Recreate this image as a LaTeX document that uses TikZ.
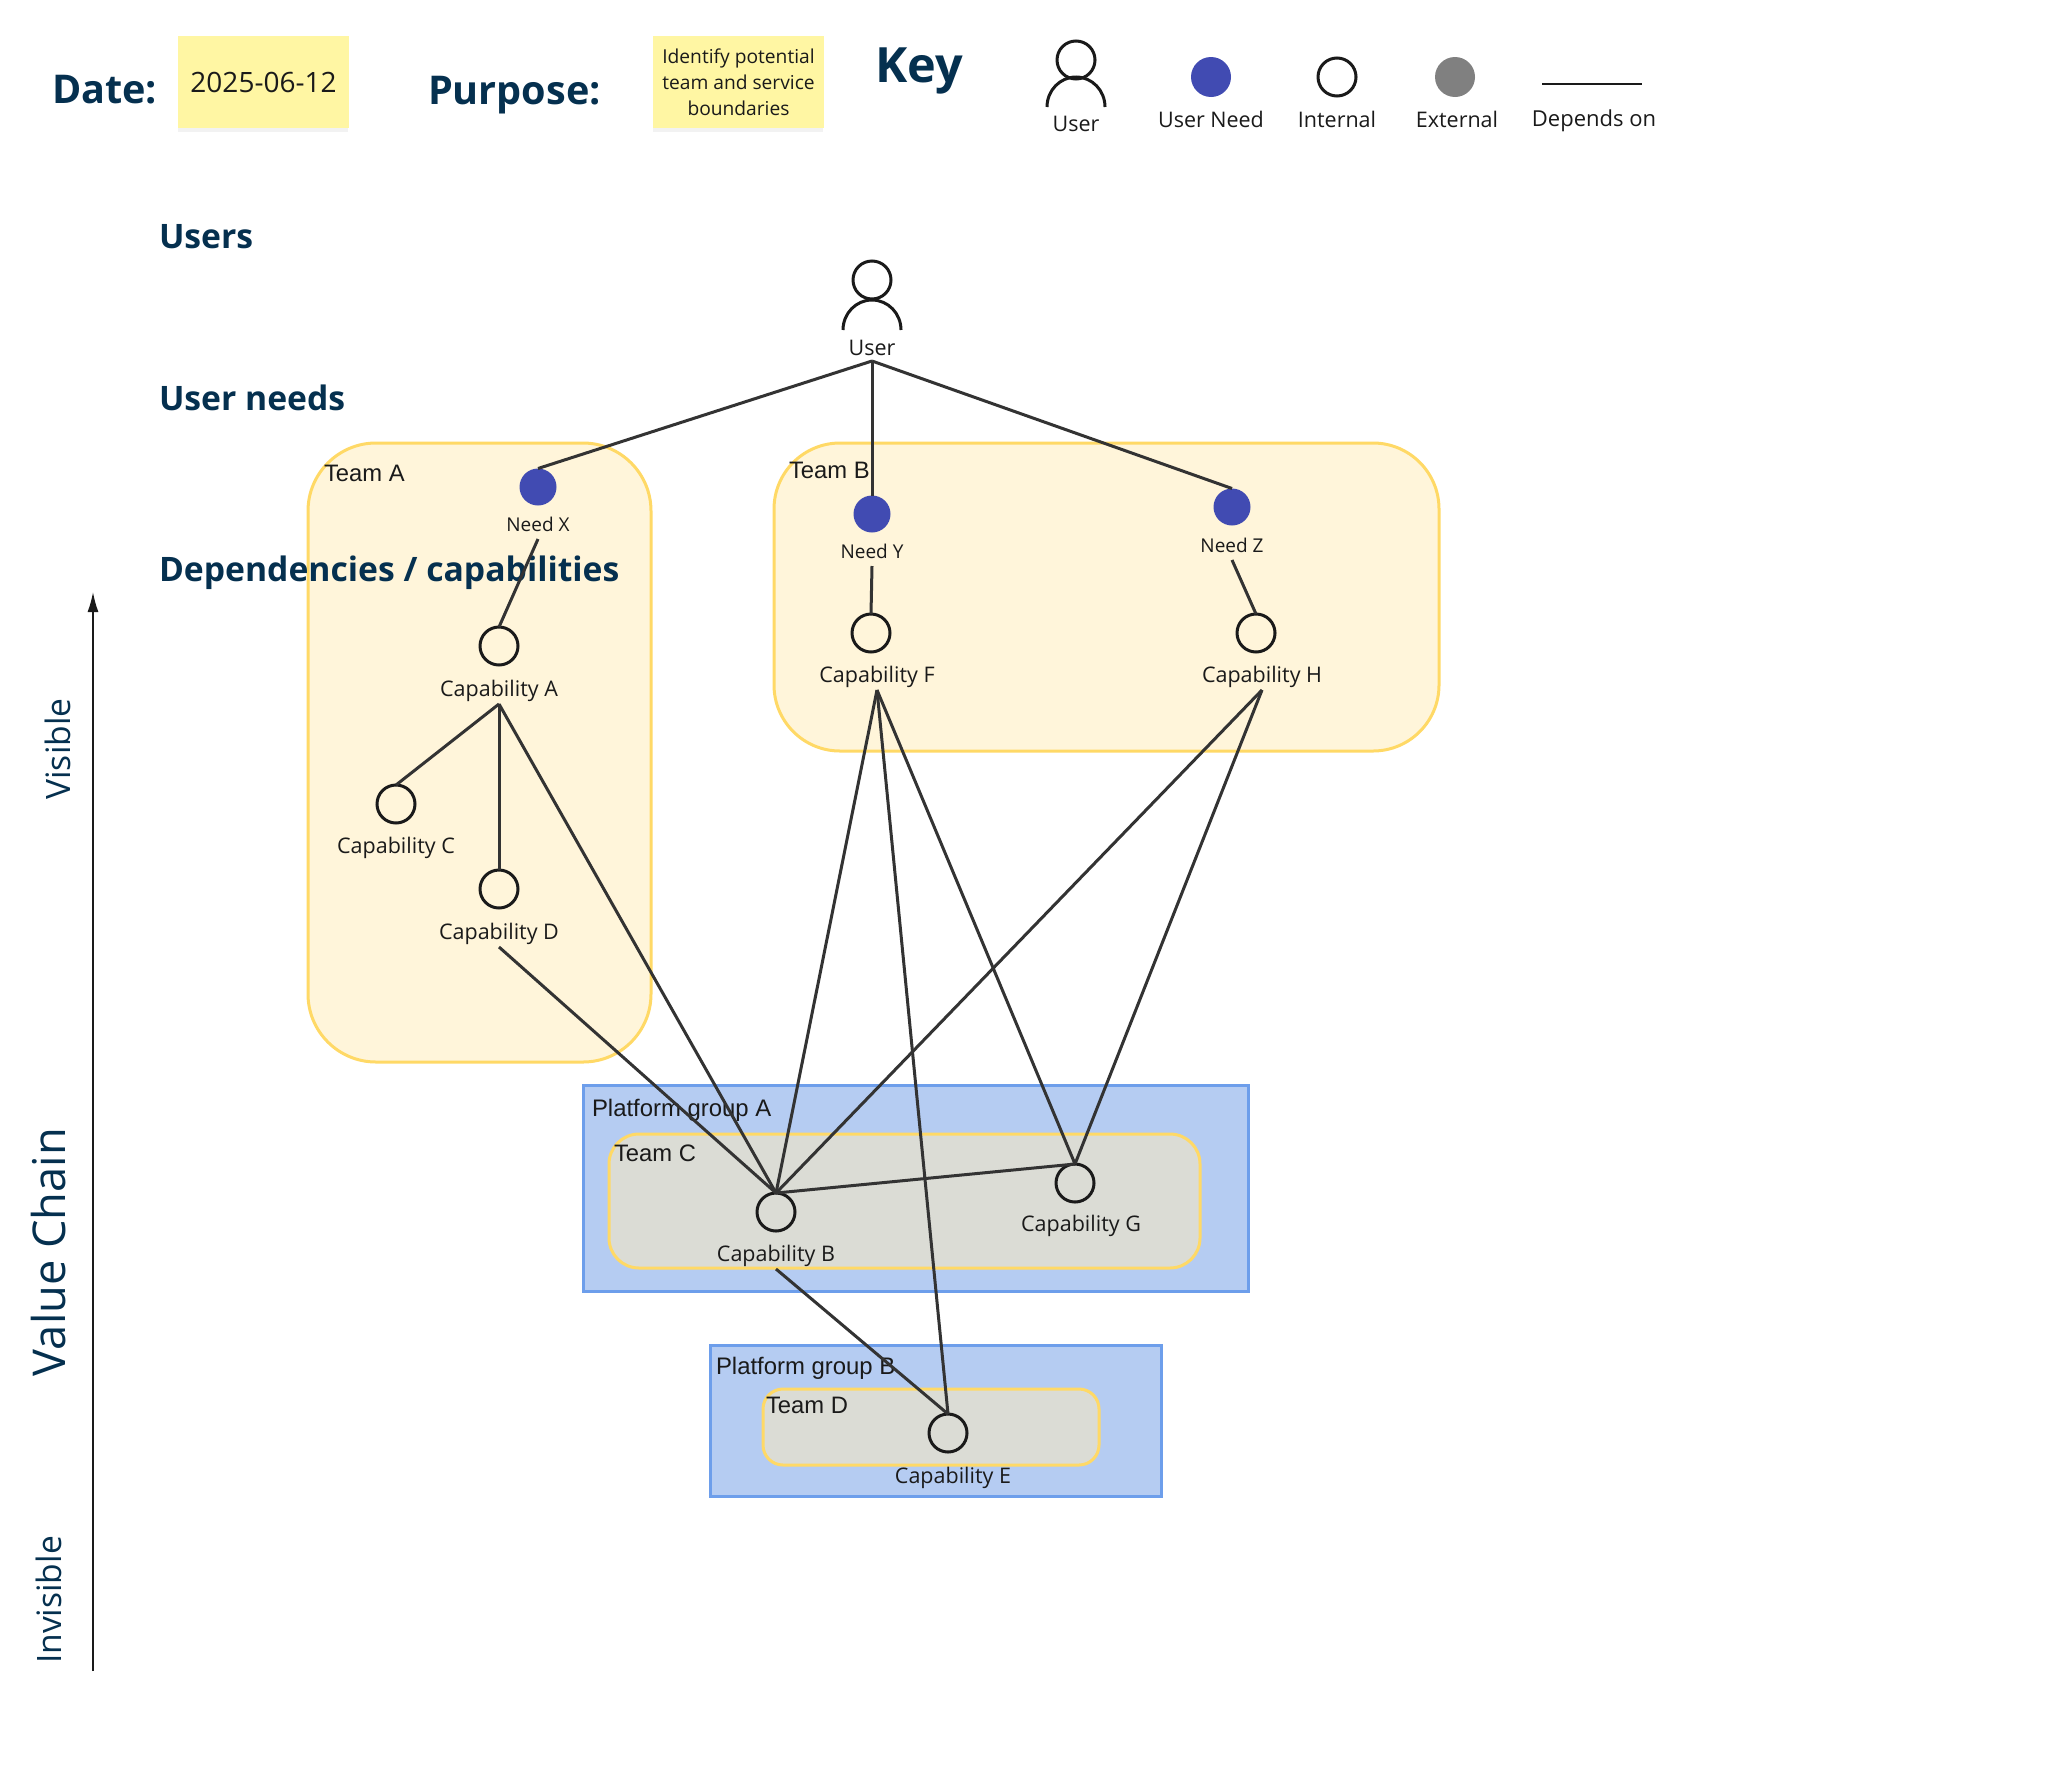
\documentclass[tikz,border=0pt]{standalone}
\usepackage{fontspec}
\setmainfont{Open Sans}
\newfontfamily\arialf{Liberation Sans}
\usetikzlibrary{arrows.meta}
\definecolor{navy}{HTML}{05304F}
\definecolor{sticky}{HTML}{FFF6A3}
\definecolor{teamfill}{HTML}{FFF5DA}
\definecolor{teamline}{HTML}{FFD966}
\definecolor{platfill}{HTML}{B5CCF2}
\definecolor{platline}{HTML}{6D9EEB}
\definecolor{innerfill}{HTML}{DBDCD5}
\definecolor{needblue}{HTML}{414BB2}
\definecolor{extgray}{HTML}{808080}
\definecolor{ink}{HTML}{1A1A1A}
\definecolor{linkc}{HTML}{333333}
\tikzset{
  every node/.style={inner sep=0pt,outer sep=0pt},
  heading/.style={font=\bfseries\fontsize{16.85}{20}\selectfont,text=navy,anchor=west},
  bighead/.style={font=\bfseries\fontsize{19.8}{24}\selectfont,text=navy,anchor=west},
  stickynote/.style={fill=sticky,align=center,text=ink,minimum width=85.5pt,minimum height=46pt,anchor=north west},
  capnode/.style={circle,draw=ink,line width=1.5pt,minimum size=19pt},
  neednode/.style={circle,fill=needblue,minimum size=18.5pt},
  extc/.style={circle,fill=extgray,minimum size=20pt},
  lab/.style={font=\fontsize{10.75}{13}\selectfont,text=ink,minimum height=13pt},
  nlab/.style={font=\fontsize{9.5}{11}\selectfont,text=ink,minimum height=15pt},
  ulab/.style={font=\fontsize{10.75}{13}\selectfont,text=ink,minimum height=13pt},
  teamlab/.style={font=\arialf\fontsize{11.9}{14}\selectfont,text=ink,anchor=west},
  grouplab/.style={font=\arialf\fontsize{11.95}{14}\selectfont,text=ink,anchor=west},
  teambox/.style={draw=teamline,fill=teamfill,line width=1.5pt},
  innerbox/.style={draw=teamline,fill=innerfill,line width=1.5pt},
  platbox/.style={draw=platline,fill=platfill,line width=1.5pt},
  linkline/.style={draw=linkc,line width=1.5pt},
  vtext/.style={rotate=90,text=navy},
  person/.style={draw=ink,line width=1.5pt},
  shadowbar/.style={fill=black,opacity=.05}
}
\begin{document}
\begin{tikzpicture}[x=.5pt,y=-.5pt]
\useasboundingbox[fill=white] (0,0) rectangle (2048,1772);

% containers
\draw[teambox,rounded corners=34pt] (308,443) rectangle (651,1062);
\draw[teambox,rounded corners=33pt] (774,443) rectangle (1439,751);
\draw[platbox] (583,1085) rectangle (1248,1291);
\draw[innerbox,rounded corners=15pt] (609,1134) rectangle (1200,1268);
\draw[platbox] (710,1345) rectangle (1161,1496);
\draw[innerbox,rounded corners=10pt] (763,1389) rectangle (1099,1465);

% header
\node[bighead] (dateh) at (52,90) {Date:};
\fill[shadowbar] (178,128) rectangle (348,132);
\node[stickynote,font=\fontsize{14}{17}\selectfont] (datenote) at (178,36) {2025-06-12};
\node[bighead] (purposeh) at (428,95) {Purpose:};
\fill[shadowbar] (653,128) rectangle (823,132);
\node[stickynote,font=\fontsize{9.6}{13}\selectfont] (purposenote) at (653,36) {Identify potential\\team and service\\boundaries};
\node[font=\bfseries\fontsize{24.3}{30}\selectfont,text=navy,anchor=west] (keyh) at (875,71) {Key};

% key
\node[circle,person,minimum size=19pt] (keyuserhead) at (1076,60) {};
\draw[person] (1047,107) arc[start angle=180,end angle=360,x radius=29,y radius=30];
\node[ulab] (keyuser) at (1076,124) {User};
\node[neednode,minimum size=20pt] (keyneed) at (1211,77) {};
\node[lab] (keyneedl) at (1211,119) {User Need};
\node[capnode] (keyint) at (1337,77) {};
\node[lab] (keyintl) at (1337,119) {Internal};
\node[extc] (keyext) at (1455,77) {};
\node[lab] (keyextl) at (1457,119) {External};
\coordinate (keyl1) at (1542,84);
\coordinate (keyl2) at (1642,84);
\draw[ink,line width=1pt] (keyl1) -- (keyl2);
\node[font=\fontsize{11}{13}\selectfont,text=ink,minimum height=13pt] (keydep) at (1594,121) {Depends on};

% rows
\node[heading] (rowusers) at (159,237) {Users};
\node[heading] (rowneeds) at (159,398) {User needs};
\node[heading] (rowdeps) at (159,573) {Dependencies / capabilities};

% value chain axis
\coordinate (axisb) at (93,1671);
\coordinate (axist) at (93,592);
\draw[ink,line width=.8pt,-{Latex[length=10pt,width=5.5pt]}] (axisb) -- (axist);
\node[vtext,font=\fontsize{16.8}{19}\selectfont] (visible) at (58,749) {Visible};
\node[vtext,font=\fontsize{22.6}{26}\selectfont] (vchain) at (49,1252) {Value Chain};
\node[vtext,font=\fontsize{16.8}{19}\selectfont] (invisible) at (49,1600) {Invisible};

% user
\node[circle,person,minimum size=19pt] (userhead) at (872,280) {};
\draw[person] (843,330) arc[start angle=180,end angle=360,x radius=29,y radius=30];
\node[ulab] (user) at (872,348) {User};

% team labels
\node[teamlab] (teama) at (324,473) {Team A};
\node[teamlab] (teamb) at (789,470) {Team B};
\node[grouplab] (plata) at (592,1110) {Platform group A};
\node[teamlab] (teamc) at (614,1153) {Team C};
\node[grouplab] (platb) at (716,1368) {Platform group B};
\node[teamlab] (teamd) at (766,1405) {Team D};

% needs
\node[neednode] (nx) at (538,487) {};
\node[nlab] (nxl) at (538,524) {Need X};
\node[neednode] (ny) at (872,514) {};
\node[nlab] (nyl) at (872,551) {Need Y};
\node[neednode] (nz) at (1232,507) {};
\node[nlab] (nzl) at (1232,545) {Need Z};

% capabilities
\node[capnode] (ca) at (499,646) {};
\node[lab] (cal) at (499,691) {Capability A};
\node[capnode] (cc) at (396,804) {};
\node[lab] (ccl) at (396,848) {Capability C};
\node[capnode] (cd) at (499,889) {};
\node[lab] (cdl) at (499,934) {Capability D};
\node[capnode] (cf) at (871,633) {};
\node[lab] (cfl) at (877,677) {Capability F};
\node[capnode] (ch) at (1256,633) {};
\node[lab] (chl) at (1262,677) {Capability H};
\node[capnode] (cb) at (776,1212) {};
\node[lab] (cbl) at (776,1256) {Capability B};
\node[capnode] (cg) at (1075,1183) {};
\node[lab] (cgl) at (1081,1226) {Capability G};
\node[capnode] (ce) at (948,1433) {};
\node[lab] (cel) at (953,1478) {Capability E};

% connectors
\draw[linkline] (user.south) -- (nx.north);
\draw[linkline] (user.south) -- (ny.north);
\draw[linkline] (user.south) -- (nz.north);
\draw[linkline] (nxl.south) -- (ca.north);
\draw[linkline] (nyl.south) -- (cf.north);
\draw[linkline] (nzl.south) -- (ch.north);
\draw[linkline] (cal.south) -- (cc.north);
\draw[linkline] (cal.south) -- (cd.north);
\draw[linkline] (cal.south) -- (cb.north);
\draw[linkline] (cdl.south) -- (cb.north);
\draw[linkline] (cfl.south) -- (cb.north);
\draw[linkline] (cfl.south) -- (cg.north);
\draw[linkline] (cfl.south) -- (ce.north);
\draw[linkline] (chl.south) -- (cb.north);
\draw[linkline] (chl.south) -- (cg.north);
\draw[linkline] (cb.north) -- (cg.north);
\draw[linkline] (cbl.south) -- (ce.north);
\end{tikzpicture}
\end{document}
